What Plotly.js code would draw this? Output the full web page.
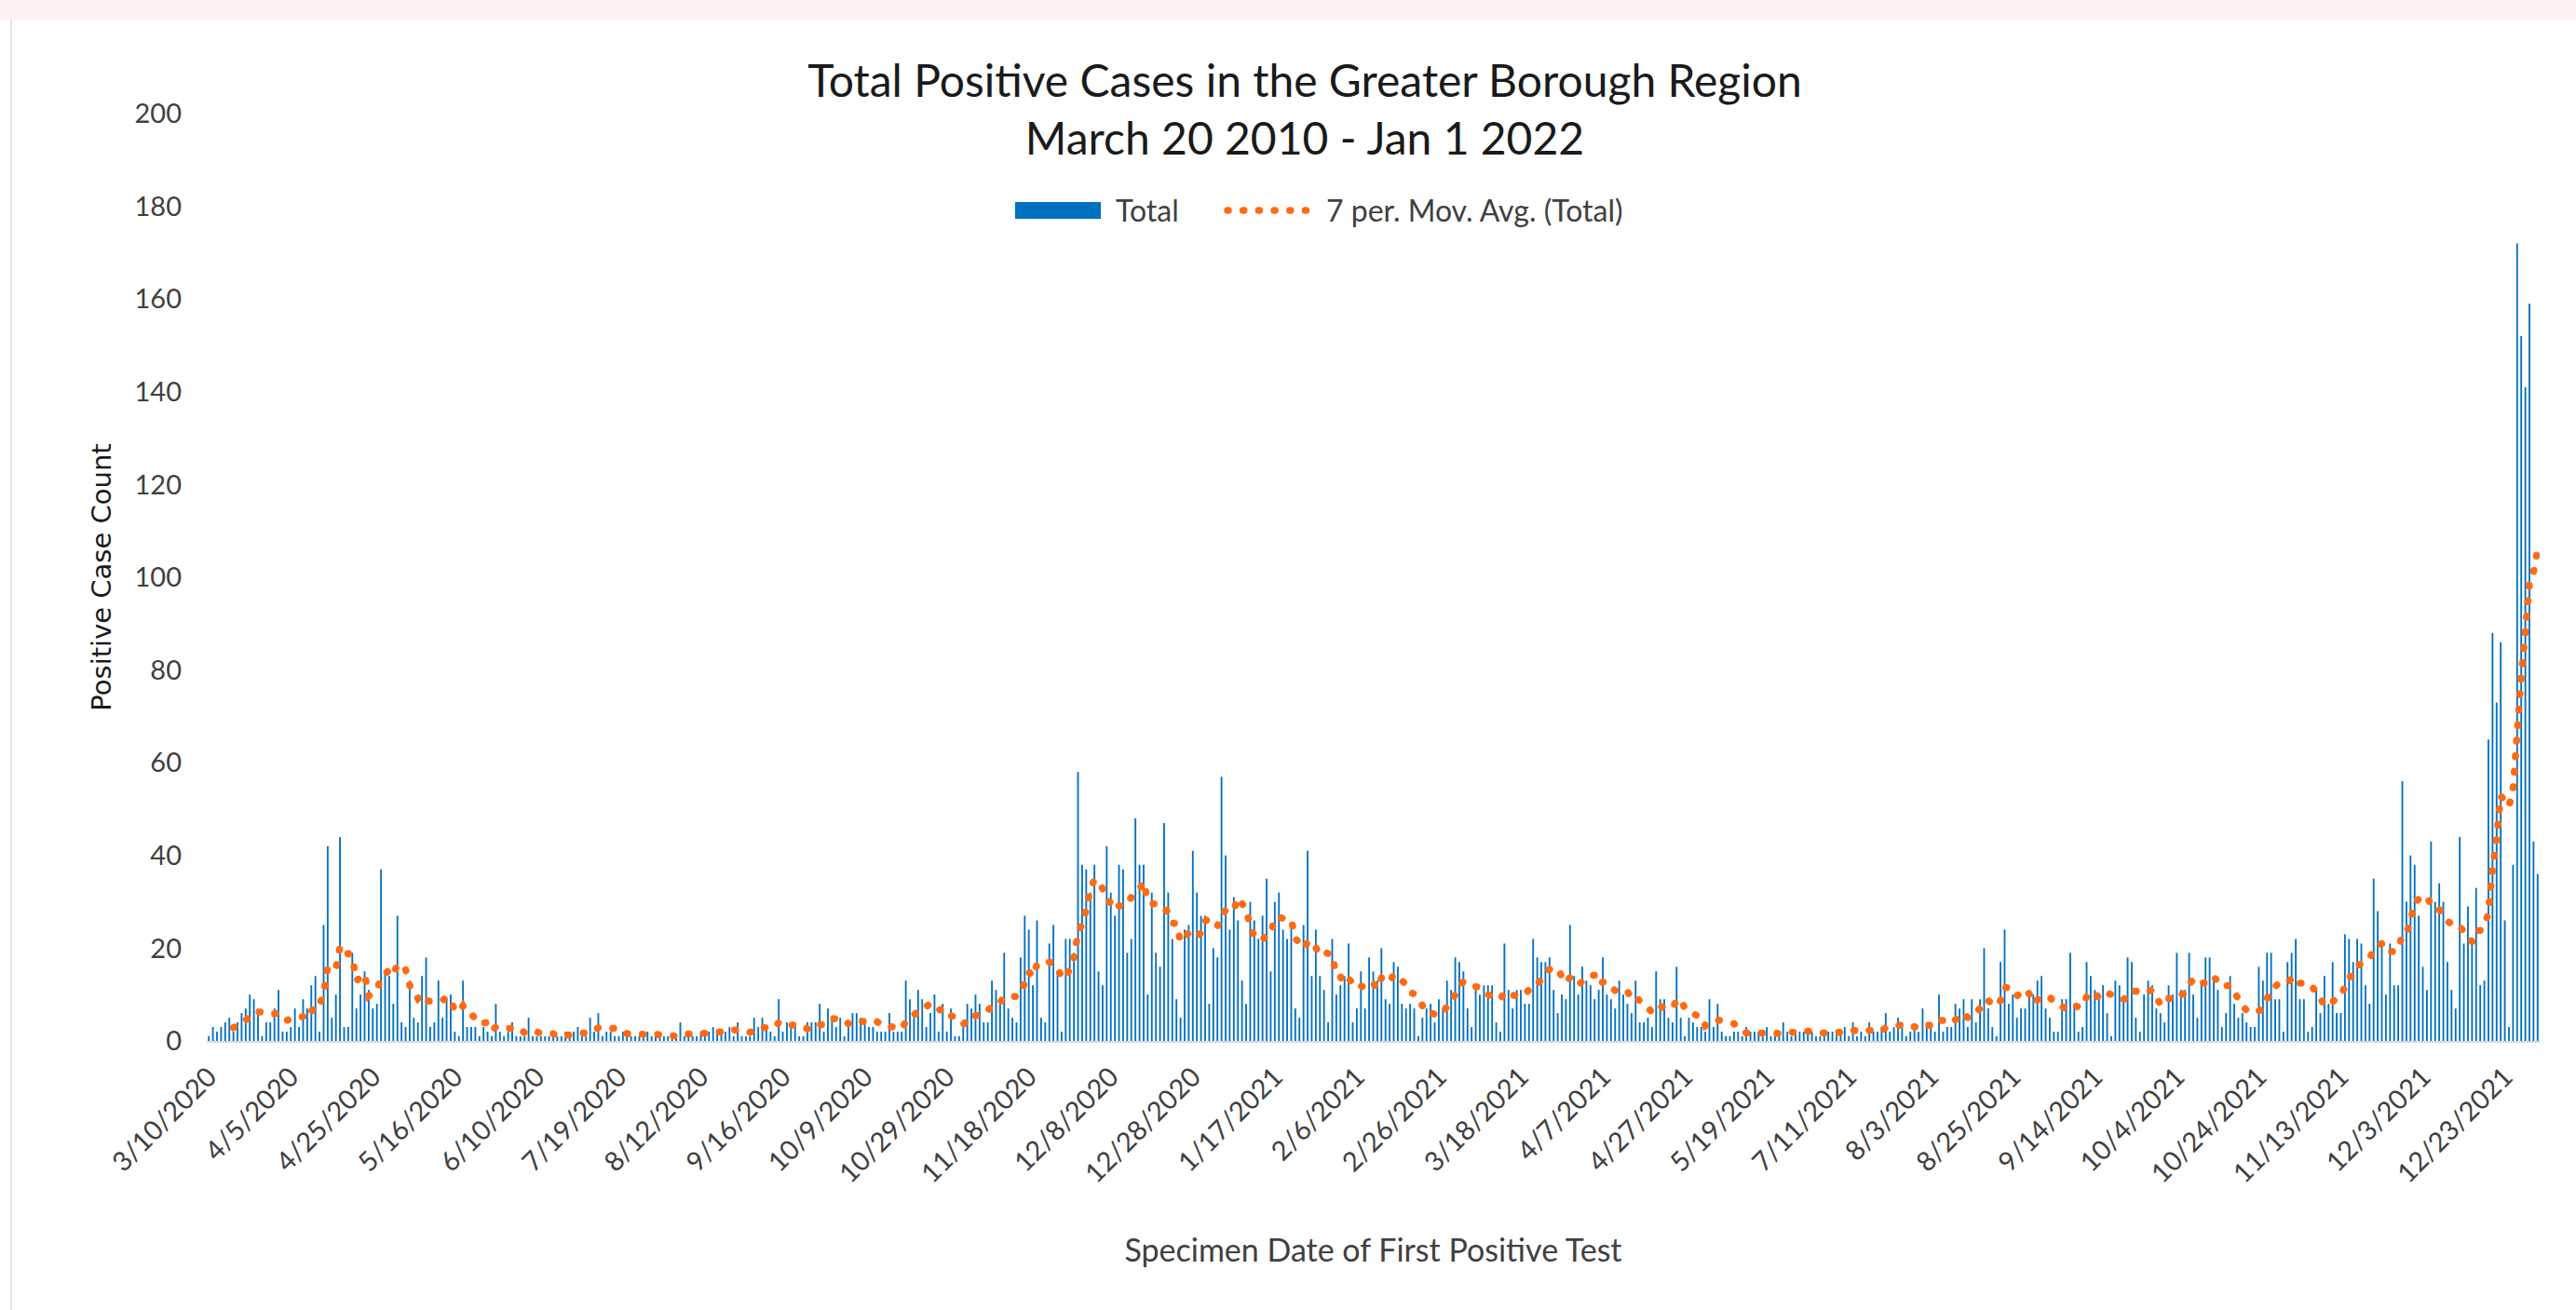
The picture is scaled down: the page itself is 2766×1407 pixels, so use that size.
<!DOCTYPE html>
<html><head><meta charset="utf-8">
<script src="https://cdn.plot.ly/plotly-3.0.1.min.js"></script>
<style>
html,body{margin:0;padding:0;background:#fff;width:2766px;height:1407px;overflow:hidden;}
#chart{position:absolute;left:0;top:0;width:2766px;height:1407px;}
#strip{position:absolute;left:0;top:0;width:2766px;height:21px;background:#FCF3F0;z-index:5;}
#vline{position:absolute;left:11px;top:21px;width:2px;height:1386px;background:#E3E3E3;z-index:5;}
.scatterlayer .js-line{stroke-linecap:round !important;}
.shapelayer path{stroke-linecap:round !important;}
</style></head><body>
<div id="chart"></div><div id="strip"></div><div id="vline"></div>
<script>
// Category tick labels (every 20th category of the axis)
const tickLabels = ['3/10/2020','4/5/2020','4/25/2020','5/16/2020','6/10/2020','7/19/2020','8/12/2020','9/16/2020','10/9/2020','10/29/2020','11/18/2020','12/8/2020','12/28/2020','1/17/2021','2/6/2021','2/26/2021','3/18/2021','4/7/2021','4/27/2021','5/19/2021','7/11/2021','8/3/2021','8/25/2021','9/14/2021','10/4/2021','10/24/2021','11/13/2021','12/3/2021','12/23/2021'];
const tickEvery = 20;

// Daily totals, 2020 part (3/10/2020 .. 12/31/2020)
const cases2020 = [
1,3,2,3,4,5,2,4,6,7, 10,9,6,1,4,4,7,11,2,2, 3,7,3,9,7,12,14,2,25,42, 5,10,44,3,3,19,7,10,15,11,
7,8,37,15,14,8,27,4,3,13, 5,4,14,18,3,4,13,5,9,10, 2,1,13,3,3,3,1,3,2,1, 8,2,1,2,4,1,1,1,5,1,
1,1,1,1,1,1,1,2,2,2, 3,1,1,5,2,6,1,2,2,1, 1,2,2,1,1,1,2,2,1,1, 1,1,1,1,1,4,1,1,1,1,
2,2,2,3,2,2,2,3,1,4, 1,1,1,5,3,5,3,2,1,9, 2,4,3,3,1,1,4,4,4,8, 2,7,5,3,5,1,3,6,6,5,
4,3,3,2,2,2,6,2,2,2, 13,9,5,11,9,3,6,10,2,8, 2,7,1,1,4,8,7,10,8,4, 4,13,11,8,19,7,5,4,18,27,
24,12,26,5,4,21,25,15,2,22, 22,19,58,38,37,32,38,15,12,42, 32,27,38,37,19,22,48,38,38,10, 32,19,16,47,32,22,9,5,24,25,
41,32,27,27
];
// Daily totals, 2021 part (1/1/2021 .. end)
const cases2021 = [
8,20,18,57,40,24,31,26,13,8, 30,26,22,27,35,15,30,32,24,22, 25,7,5,25,41,14,24,14,11,4, 22,10,12,14,21,4,7,15,7,18,
15,13,20,9,8,17,16,8,7,8, 7,1,5,7,8,4,9,7,13,11, 18,17,15,7,3,11,10,12,12,12, 4,2,21,11,7,11,11,8,8,22,
18,17,17,18,11,6,10,9,25,14, 10,16,13,12,9,11,18,10,9,7, 13,10,8,6,13,4,4,5,3,15, 9,9,5,4,16,5,1,5,4,3,
3,2,9,3,8,2,1,1,2,2, 1,3,2,2,2,1,3,1,1,1, 4,2,1,2,2,2,2,2,1,1, 2,2,2,2,2,3,1,4,1,2,
1,4,2,2,3,6,2,3,5,4, 1,2,3,2,7,4,3,2,10,2, 3,3,8,7,9,3,9,4,9,20, 7,3,1,17,24,8,10,5,7,7,
10,10,13,14,7,5,2,2,9,9, 19,8,2,3,17,14,11,9,12,6, 1,13,12,9,18,17,5,2,10,13, 12,7,6,4,12,10,19,11,11,19,
10,5,13,18,18,14,11,3,6,14, 8,5,6,4,3,3,16,13,19,19, 9,9,2,17,19,22,9,9,2,3, 11,6,14,8,17,6,6,23,22,17,
22,21,12,8,35,28,21,10,21,12, 12,56,30,40,38,27,16,11,43,30, 34,30,17,11,7,44,21,29,21,33, 12,13,65,88,73,86,26,3,38,172,
152,141,159,43,36
];
const maPeriod = 7;

const cases = cases2020.concat(cases2021);
const idx = cases.map((_, i) => i);
const maX = [], maY = [];
for (let i = maPeriod - 1; i < cases.length; i++) {
  let s = 0;
  for (let k = i - maPeriod + 1; k <= i; k++) s += cases[k];
  maX.push(i); maY.push(s / maPeriod);
}
const tickVals = tickLabels.map((_, k) => k * tickEvery);

const W = 2766, H = 1407, L = 222, R = 2727, T = 122, B = 1118;
const px2x = p => (p - L) / (R - L);
const py2y = p => (B - p) / (B - T);
const BLUE = '#0070C0', ORANGE = '#FF6A13', TXT = '#404040';
const dotDash = '1px,15.7px';

const traces = [
  {type: 'bar', x: idx, y: cases, name: 'Total', marker: {color: BLUE, line: {width: 0}}, showlegend: false, hoverinfo: 'skip'},
  {type: 'scatter', mode: 'lines', x: maX, y: maY, name: '7 per. Mov. Avg. (Total)',
   line: {color: ORANGE, width: 7.5, dash: dotDash}, showlegend: false, hoverinfo: 'skip'}
];

const layout = {
  width: W, height: H,
  margin: {l: L, r: W - R, t: T, b: H - B, pad: 0},
  paper_bgcolor: '#ffffff', plot_bgcolor: '#ffffff',
  font: {family: 'Lato, sans-serif', size: 28, color: TXT},
  bargap: 0.58,
  showlegend: false,
  title: {
    text: 'Total Positive Cases in the Greater Borough Region<br>March 20 2010 - Jan 1 2022',
    font: {family: 'Lato, sans-serif', size: 48, color: '#1a1a1a'},
    x: 1401 / W, xanchor: 'center', xref: 'container',
    y: 1 - 104 / H, yanchor: 'middle', yref: 'container'
  },
  xaxis: {
    type: 'linear', range: [-0.5, cases.length - 0.5],
    tickmode: 'array', tickvals: tickVals, ticktext: tickLabels, tickangle: -45,
    showgrid: false, zeroline: false, showline: true, linecolor: '#D9D9D9', linewidth: 2,
    ticks: '', ticklabelstandoff: 8, tickfont: {size: 29, color: TXT},
    title: {text: 'Specimen Date of First Positive Test', font: {size: 34, color: TXT}, standoff: 56},
    automargin: false, fixedrange: true
  },
  yaxis: {
    range: [0, 200], tickmode: 'linear', tick0: 0, dtick: 20,
    showgrid: false, zeroline: false, showline: false, ticks: '', ticklabelstandoff: 26,
    tickfont: {size: 29, color: TXT},
    title: {text: 'Positive Case Count', font: {family: 'DejaVu Sans, sans-serif', size: 29, color: '#1a1a1a'}, standoff: 16},
    automargin: false, fixedrange: true
  },
  shapes: [
    {type: 'rect', xref: 'paper', yref: 'paper', x0: px2x(1090), x1: px2x(1182), y0: py2y(235), y1: py2y(217),
     fillcolor: BLUE, line: {width: 0}},
    {type: 'line', xref: 'paper', yref: 'paper', x0: px2x(1318), x1: px2x(1408), y0: py2y(226), y1: py2y(226),
     line: {color: ORANGE, width: 7.5, dash: dotDash}}
  ],
  annotations: [
    {text: 'Total', xref: 'paper', yref: 'paper', x: px2x(1196), y: py2y(226), xanchor: 'left', yanchor: 'middle',
     showarrow: false, font: {size: 32, color: TXT}},
    {text: '7 per. Mov. Avg. (Total)', xref: 'paper', yref: 'paper', x: px2x(1422), y: py2y(226), xanchor: 'left', yanchor: 'middle',
     showarrow: false, font: {size: 32, color: TXT}}
  ]
};

Plotly.newPlot('chart', traces, layout, {staticPlot: true, displayModeBar: false});
</script></body></html>
